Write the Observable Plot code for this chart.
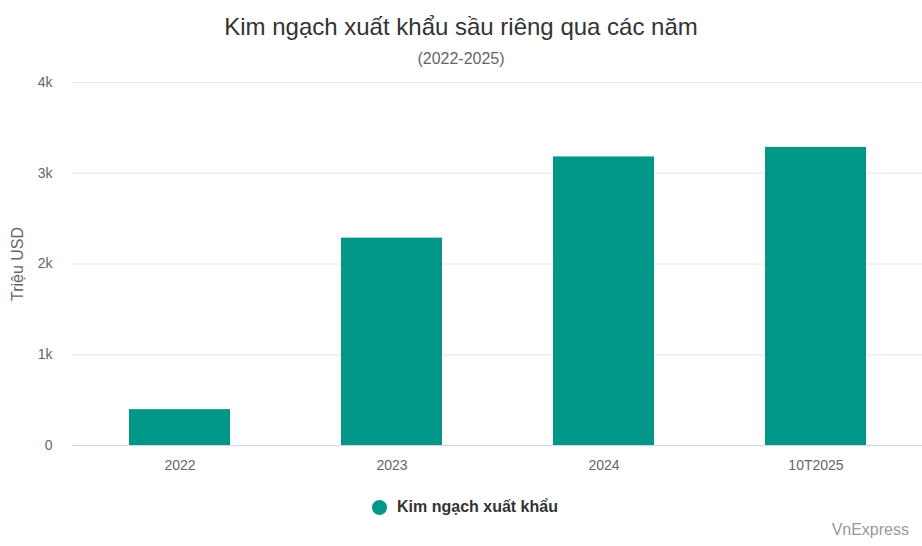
<!DOCTYPE html>
<html>
<head>
<meta charset="utf-8">
<script src="https://cdn.jsdelivr.net/npm/d3@7"></script>
<script src="https://cdn.jsdelivr.net/npm/@observablehq/plot@0.6"></script>
<style>
  html, body { margin: 0; padding: 0; background: #fff; }
  body { width: 922px; height: 546px; position: relative; overflow: hidden; font-family: "Liberation Sans", Arial, Helvetica, sans-serif; }
  #title { position: absolute; top: 13px; left: 0; width: 922px; text-align: center; font-size: 24px; color: #333; }
  #subtitle { position: absolute; top: 50px; left: 0; width: 922px; text-align: center; font-size: 16px; color: #666; }
  #chart { position: absolute; top: 72px; left: 0; }
  #legend { position: absolute; top: 498px; left: 4px; width: 922px; display: flex; justify-content: center; align-items: center; font-size: 16px; font-weight: bold; color: #333; }
  #legend .dot { width: 15px; height: 15px; border-radius: 50%; background: #009688; margin-right: 10px; }
  #credit { position: absolute; top: 521px; right: 13px; font-size: 16px; color: #999; }
</style>
</head>
<body>
<div id="title">Kim ngạch xuất khẩu sầu riêng qua các năm</div>
<div id="subtitle">(2022-2025)</div>
<div id="chart"></div>
<div id="legend"><span class="dot"></span><span>Kim ngạch xuất khẩu</span></div>
<div id="credit">VnExpress</div>
<script>
const categories = ["2022", "2023", "2024", "10T2025"];
const values = [395, 2285, 3180, 3285];
const yTicks = [0, 1000, 2000, 3000, 4000];
const yTickLabels = ["0", "1k", "2k", "3k", "4k"];
const seriesName = "Kim ngạch xuất khẩu";

const data = categories.map((c, i) => ({category: c, value: values[i]}));

const chart = Plot.plot({
  width: 922,
  height: 405,
  marginTop: 10,
  marginBottom: 32,
  marginLeft: 72,
  marginRight: 0,
  style: {fontFamily: "Liberation Sans, Arial, sans-serif", fontSize: "14px", color: "#666", background: "transparent"},
  x: {type: "band", domain: categories, paddingInner: 0.525, paddingOuter: 0.2625},
  y: {domain: [0, 4000]},
  marks: [
    Plot.ruleY(yTicks.filter(d => d > 0), {stroke: "#e6e6e6", strokeWidth: 1}),
    Plot.barY(data, {x: "category", y: "value", fill: "#009688"}),
    Plot.ruleY([0], {stroke: "#ccd6eb", strokeWidth: 1}),
    Plot.axisX({tickSize: 0, tickPadding: 15, label: null, fontSize: 14, color: "#666"}),
    Plot.axisY({ticks: yTicks, tickFormat: (d) => yTickLabels[yTicks.indexOf(d)], tickSize: 0, tickPadding: 20, label: null, fontSize: 14}),
    Plot.text(["Triệu USD"], {frameAnchor: "left", textAnchor: "middle", dx: -55, rotate: -90, fill: "#666", fontSize: 16})
  ]
});
document.getElementById("chart").appendChild(chart);
</script>
</body>
</html>
